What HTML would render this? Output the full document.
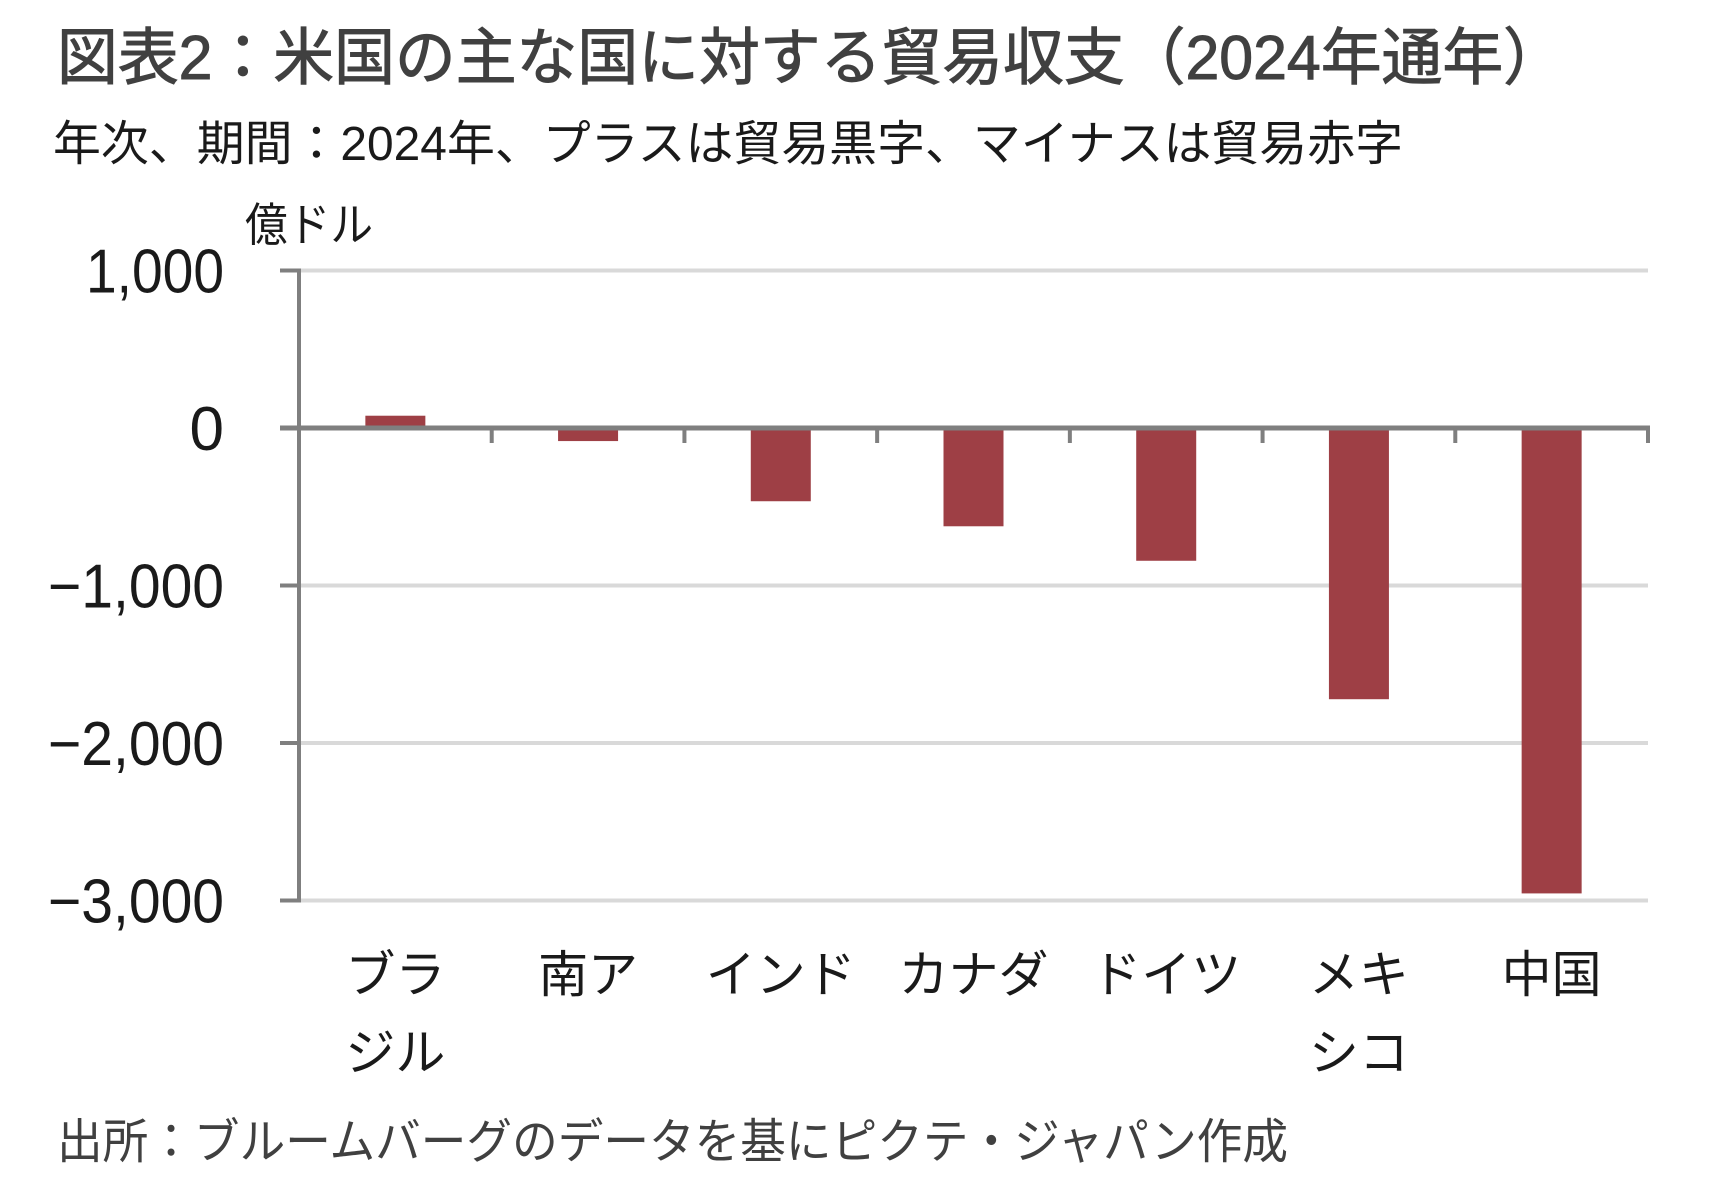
<!DOCTYPE html>
<html><head><meta charset="utf-8"><style>
html,body{margin:0;padding:0;background:#fff;}
svg{display:block;}
text{font-family:"Liberation Sans","Noto Sans CJK JP",sans-serif;}
</style></head><body>
<svg id="chart" width="1716" height="1192" viewBox="0 0 1716 1192" xmlns="http://www.w3.org/2000/svg">
<rect width="1716" height="1192" fill="#fff"/>
<text x="57" y="79" font-size="62" fill="#404040" stroke="#404040" stroke-width="1" textLength="1507" lengthAdjust="spacingAndGlyphs">図表2：米国の主な国に対する貿易収支（2024年通年）</text>
<text x="53" y="160" font-size="48" fill="#1a1a1a" textLength="1350" lengthAdjust="spacingAndGlyphs">年次、期間：2024年、プラスは貿易黒字、マイナスは貿易赤字</text>
<text x="245" y="241" font-size="46" fill="#1a1a1a" textLength="128" lengthAdjust="spacingAndGlyphs">億ドル</text>
<g id="grid"></g><g id="bars"></g><g id="axes"></g><g id="labels"></g>
<text x="57" y="1158" font-size="48" fill="#404040" textLength="1231" lengthAdjust="spacingAndGlyphs">出所：ブルームバーグのデータを基にピクテ・ジャパン作成</text>
</svg>
<script>
const categories = [["ブラ","ジル"],["南ア"],["インド"],["カナダ"],["ドイツ"],["メキ","シコ"],["中国"]];
const values = [78, -83, -465, -624, -843, -1722, -2955];
const yTicks = [1000, 0, -1000, -2000, -3000];
const yTickLabels = ["1,000", "0", "−1,000", "−2,000", "−3,000"];

const NS = "http://www.w3.org/2000/svg";
const plotL = 299, plotR = 1648, zeroY = 428, pxPer = 0.1575;
const yScale = v => zeroY - v * pxPer;
const band = (plotR - plotL) / categories.length;
const xCenter = i => plotL + band * (i + 0.5);
function mk(tag, attrs, parent){const e=document.createElementNS(NS,tag);for(const k in attrs)e.setAttribute(k,attrs[k]);parent.appendChild(e);return e;}
const grid=document.getElementById('grid'),bars=document.getElementById('bars'),axes=document.getElementById('axes'),labels=document.getElementById('labels');
yTicks.forEach((t,i)=>{
  const y=yScale(t);
  if(t!==0){
    const g=mk('line',{x1:plotL,x2:plotR,y1:y,y2:y,stroke:'#d9d9d9','stroke-width':4},grid);
    
    
  }
  const tk=mk('line',{x1:280,x2:plotL,y1:y,y2:y,stroke:'#7f7f7f','stroke-width':4},axes);
  
  
  const lb=mk('text',{x:224,y:y+22,'font-size':62,'text-anchor':'end',fill:'#1a1a1a'},labels);
  lb.textContent=yTickLabels[i];
  
  
  const n=yTickLabels[i].replace('−','').length;
  if(n>1){lb.setAttribute('textLength', (yTickLabels[i].startsWith('−')?176:138));lb.setAttribute('lengthAdjust','spacingAndGlyphs');}
});
values.forEach((v,i)=>{
  const cx=xCenter(i), y0=yScale(0), y1=yScale(v);
  const r=mk('rect',{x:cx-30,y:Math.min(y0,y1),width:60,height:Math.abs(y1-y0),fill:'#9e3f45'},bars);
  
  
  categories[i].forEach((line,j)=>{
    const t=mk('text',{x:cx,y:992+j*78,'font-size':50,'text-anchor':'middle',fill:'#1a1a1a'},labels);
    t.textContent=line;
    
    
  });
});
const ya=mk('line',{x1:plotL,x2:plotL,y1:yScale(1000)-2,y2:yScale(-3000)+2,stroke:'#7f7f7f','stroke-width':4},axes);


const xa=mk('line',{x1:280,x2:plotR+2,y1:zeroY,y2:zeroY,stroke:'#7f7f7f','stroke-width':5},axes);


for(let i=1;i<=categories.length;i++){
  const x=plotL+band*i;
  const t=mk('line',{x1:x,x2:x,y1:zeroY,y2:zeroY+15,stroke:'#7f7f7f','stroke-width':4},axes);
  
  
}
</script>
</body></html>
